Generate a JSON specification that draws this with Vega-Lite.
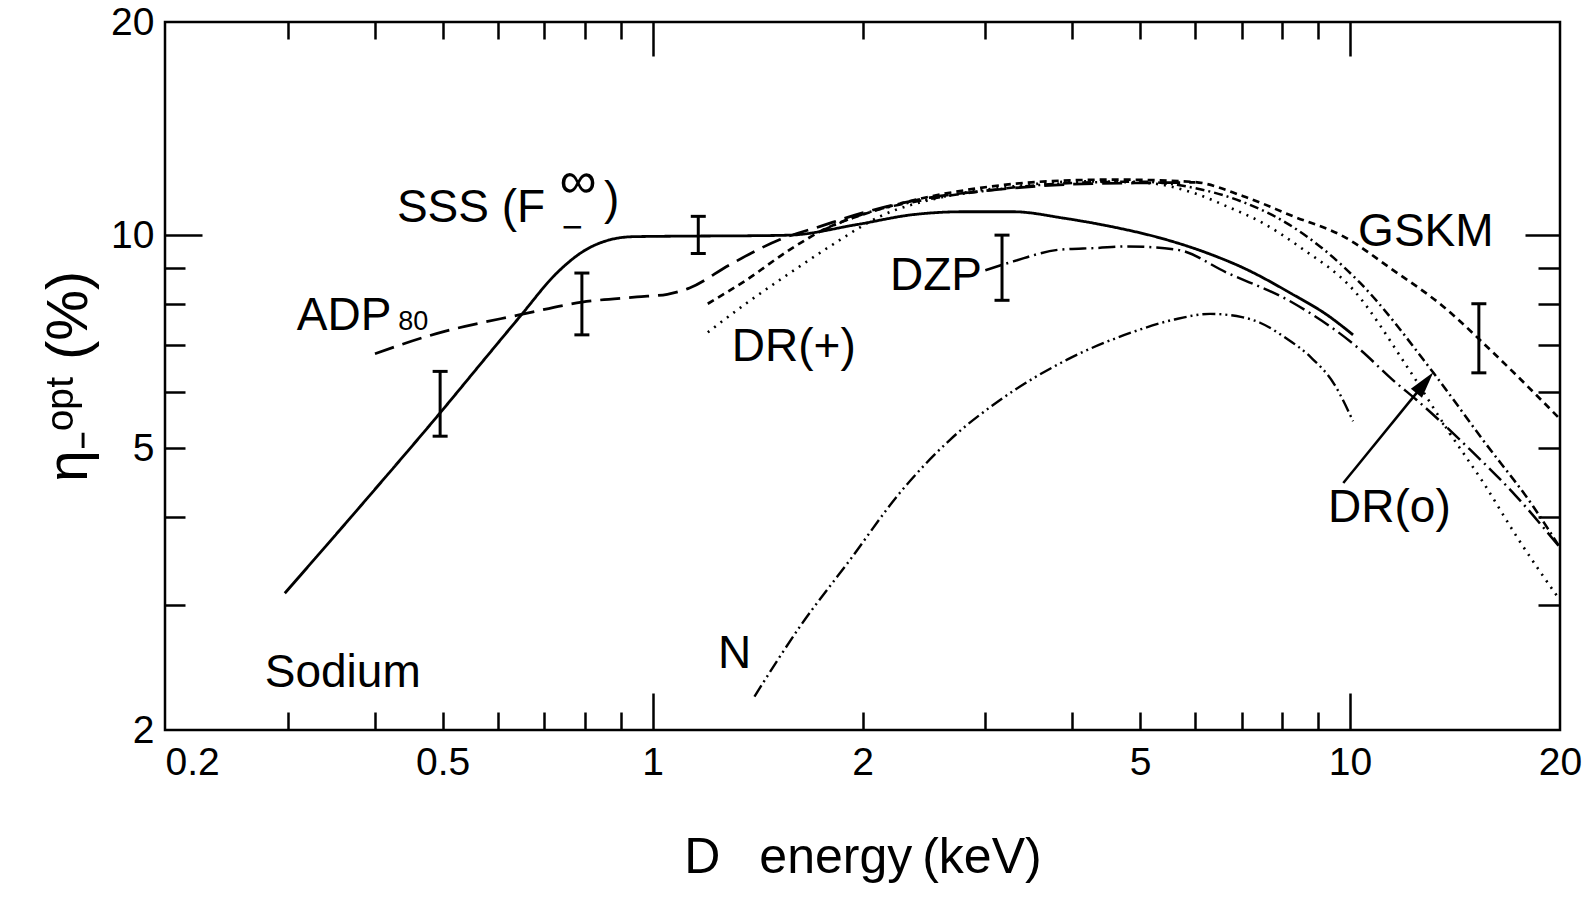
{
  "$schema": "https://vega.github.io/schema/vega-lite/v6.json",
  "width": 1395,
  "height": 708,
  "autosize": {"type": "none"},
  "padding": {"left": 165, "top": 22, "right": 31, "bottom": 172},
  "background": "white",
  "config": {
    "view": {"stroke": "black", "strokeWidth": 2.5},
    "axis": {
      "grid": false,
      "domain": false,
      "labelFont": "Liberation Sans",
      "labelFontSize": 39,
      "labelColor": "black",
      "tickColor": "black",
      "tickWidth": 2.5,
      "titleFont": "Liberation Sans",
      "titleColor": "black",
      "titleFontWeight": "normal",
      "labelOverlap": false,
      "labelFlush": false
    }
  },
  "datasets": {
    "curves": [
      {"series": "SSS", "x": 0.297, "y": 3.12},
      {"series": "SSS", "x": 0.394, "y": 4.30},
      {"series": "SSS", "x": 0.496, "y": 5.61},
      {"series": "SSS", "x": 0.575, "y": 6.69},
      {"series": "SSS", "x": 0.646, "y": 7.68},
      {"series": "SSS", "x": 0.729, "y": 8.84},
      {"series": "SSS", "x": 0.796, "y": 9.49},
      {"series": "SSS", "x": 0.869, "y": 9.85},
      {"series": "SSS", "x": 0.939, "y": 9.95},
      {"series": "SSS", "x": 1.157, "y": 9.97},
      {"series": "SSS", "x": 1.38, "y": 9.98},
      {"series": "SSS", "x": 1.574, "y": 10.0},
      {"series": "SSS", "x": 1.963, "y": 10.35},
      {"series": "SSS", "x": 2.365, "y": 10.69},
      {"series": "SSS", "x": 2.79, "y": 10.79},
      {"series": "SSS", "x": 3.29, "y": 10.79},
      {"series": "SSS", "x": 3.88, "y": 10.57},
      {"series": "SSS", "x": 4.55, "y": 10.28},
      {"series": "SSS", "x": 5.34, "y": 9.91},
      {"series": "SSS", "x": 6.23, "y": 9.44},
      {"series": "SSS", "x": 7.03, "y": 8.99},
      {"series": "SSS", "x": 8.29, "y": 8.24},
      {"series": "SSS", "x": 9.26, "y": 7.72},
      {"series": "SSS", "x": 10.1, "y": 7.23},

      {"series": "ADP80", "x": 0.40, "y": 6.80},
      {"series": "ADP80", "x": 0.49, "y": 7.26},
      {"series": "ADP80", "x": 0.646, "y": 7.72},
      {"series": "ADP80", "x": 0.792, "y": 8.04},
      {"series": "ADP80", "x": 0.95, "y": 8.18},
      {"series": "ADP80", "x": 1.05, "y": 8.25},
      {"series": "ADP80", "x": 1.13, "y": 8.42},
      {"series": "ADP80", "x": 1.29, "y": 9.08},
      {"series": "ADP80", "x": 1.52, "y": 9.85},
      {"series": "ADP80", "x": 1.74, "y": 10.29},
      {"series": "ADP80", "x": 2.0, "y": 10.75},
      {"series": "ADP80", "x": 2.5, "y": 11.3},
      {"series": "ADP80", "x": 3.0, "y": 11.55},
      {"series": "ADP80", "x": 4.0, "y": 11.8},
      {"series": "ADP80", "x": 5.0, "y": 11.85},
      {"series": "ADP80", "x": 6.0, "y": 11.87},

      {"series": "GSKM", "x": 1.2, "y": 8.0},
      {"series": "GSKM", "x": 1.365, "y": 8.65},
      {"series": "GSKM", "x": 1.574, "y": 9.54},
      {"series": "GSKM", "x": 1.8, "y": 10.29},
      {"series": "GSKM", "x": 2.0, "y": 10.69},
      {"series": "GSKM", "x": 2.365, "y": 11.2},
      {"series": "GSKM", "x": 2.95, "y": 11.66},
      {"series": "GSKM", "x": 3.67, "y": 11.91},
      {"series": "GSKM", "x": 4.58, "y": 11.98},
      {"series": "GSKM", "x": 5.96, "y": 11.89},
      {"series": "GSKM", "x": 7.03, "y": 11.35},
      {"series": "GSKM", "x": 8.29, "y": 10.63},
      {"series": "GSKM", "x": 9.78, "y": 9.96},
      {"series": "GSKM", "x": 11.5, "y": 8.94},
      {"series": "GSKM", "x": 13.6, "y": 7.93},
      {"series": "GSKM", "x": 16.05, "y": 6.82},
      {"series": "GSKM", "x": 20, "y": 5.5},

      {"series": "DR+", "x": 1.2, "y": 7.29},
      {"series": "DR+", "x": 1.365, "y": 8.02},
      {"series": "DR+", "x": 1.574, "y": 8.84},
      {"series": "DR+", "x": 1.796, "y": 9.64},
      {"series": "DR+", "x": 2.12, "y": 10.63},
      {"series": "DR+", "x": 2.64, "y": 11.35},
      {"series": "DR+", "x": 3.29, "y": 11.72},
      {"series": "DR+", "x": 4.1, "y": 11.91},
      {"series": "DR+", "x": 5.1, "y": 11.85},
      {"series": "DR+", "x": 6.0, "y": 11.45},
      {"series": "DR+", "x": 6.66, "y": 10.98},
      {"series": "DR+", "x": 7.5, "y": 10.4},
      {"series": "DR+", "x": 8.5, "y": 9.6},
      {"series": "DR+", "x": 10.1, "y": 8.38},
      {"series": "DR+", "x": 12.06, "y": 6.53},
      {"series": "DR+", "x": 13.9, "y": 5.25},
      {"series": "DR+", "x": 15.53, "y": 4.47},
      {"series": "DR+", "x": 17.34, "y": 3.75},
      {"series": "DR+", "x": 20, "y": 3.05},

      {"series": "DRo", "x": 1.75, "y": 10.15},
      {"series": "DRo", "x": 2.0, "y": 10.7},
      {"series": "DRo", "x": 2.5, "y": 11.25},
      {"series": "DRo", "x": 3.0, "y": 11.55},
      {"series": "DRo", "x": 4.0, "y": 11.85},
      {"series": "DRo", "x": 5.0, "y": 11.9},
      {"series": "DRo", "x": 6.0, "y": 11.65},
      {"series": "DRo", "x": 7.0, "y": 11.15},
      {"series": "DRo", "x": 8.11, "y": 10.4},
      {"series": "DRo", "x": 10.34, "y": 8.56},
      {"series": "DRo", "x": 13.17, "y": 6.39},
      {"series": "DRo", "x": 15.5, "y": 5.14},
      {"series": "DRo", "x": 18.3, "y": 4.14},
      {"series": "DRo", "x": 20, "y": 3.62},

      {"series": "DZP", "x": 3.0, "y": 8.92},
      {"series": "DZP", "x": 3.29, "y": 9.18},
      {"series": "DZP", "x": 3.84, "y": 9.54},
      {"series": "DZP", "x": 4.33, "y": 9.59},
      {"series": "DZP", "x": 4.78, "y": 9.64},
      {"series": "DZP", "x": 5.64, "y": 9.54},
      {"series": "DZP", "x": 6.66, "y": 8.85},
      {"series": "DZP", "x": 8.29, "y": 8.02},
      {"series": "DZP", "x": 10.34, "y": 6.89},
      {"series": "DZP", "x": 11.5, "y": 6.25},
      {"series": "DZP", "x": 12.46, "y": 5.85},
      {"series": "DZP", "x": 14.7, "y": 5.03},
      {"series": "DZP", "x": 17.3, "y": 4.28},
      {"series": "DZP", "x": 20, "y": 3.62},

      {"series": "N", "x": 1.40, "y": 2.23},
      {"series": "N", "x": 1.627, "y": 2.80},
      {"series": "N", "x": 1.92, "y": 3.48},
      {"series": "N", "x": 2.26, "y": 4.32},
      {"series": "N", "x": 2.67, "y": 5.14},
      {"series": "N", "x": 3.15, "y": 5.85},
      {"series": "N", "x": 3.93, "y": 6.67},
      {"series": "N", "x": 4.85, "y": 7.28},
      {"series": "N", "x": 5.6, "y": 7.6},
      {"series": "N", "x": 6.3, "y": 7.74},
      {"series": "N", "x": 7.0, "y": 7.66},
      {"series": "N", "x": 7.43, "y": 7.52},
      {"series": "N", "x": 8.1, "y": 7.15},
      {"series": "N", "x": 8.76, "y": 6.74},
      {"series": "N", "x": 9.5, "y": 6.15},
      {"series": "N", "x": 10.1, "y": 5.46}
    ],
    "bars": [
      {"x": 0.496, "lo": 5.20, "hi": 6.42},
      {"x": 0.792, "lo": 7.23, "hi": 8.84},
      {"x": 1.163, "lo": 9.42, "hi": 10.63},
      {"x": 3.17, "lo": 8.09, "hi": 10.0},
      {"x": 15.3, "lo": 6.39, "hi": 8.0}
    ],
    "labels": [
      {"text": "SSS (F", "x": 0.430, "y": 10.45},
      {"text": ")", "x": 0.852, "y": 10.72},
      {"text": "ADP", "x": 0.309, "y": 7.355},
      {"text": "Sodium", "x": 0.278, "y": 2.30},
      {"text": "DR(+)", "x": 1.299, "y": 6.63},
      {"text": "DZP", "x": 2.19, "y": 8.376},
      {"text": "GSKM", "x": 10.27, "y": 9.64},
      {"text": "DR(o)", "x": 9.30, "y": 3.94},
      {"text": "N", "x": 1.241, "y": 2.446}
    ],
    "infinity": [
      {"text": "∞", "x": 0.782, "y": 11.9}
    ],
    "minus": [
      {"text": "−", "x": 0.767, "y": 10.25}
    ],
    "subs": [
      {"text": "80", "x": 0.432, "y": 7.355}
    ],
    "arrow": [
      {"x": 9.78, "y": 4.465, "x2": 12.74, "y2": 6.149}
    ]
  },
  "resolve": {"axis": {"x": "independent", "y": "independent"}},
  "layer": [
    {
      "data": {"name": "curves"},
      "mark": {"type": "line", "color": "black", "strokeCap": "butt", "clip": true, "interpolate": "monotone"},
      "encoding": {
        "x": {
          "field": "x", "type": "quantitative",
          "scale": {"type": "log", "domain": [0.2, 20], "nice": false},
          "axis": {
            "orient": "bottom",
            "values": [0.2, 0.5, 1, 2, 5, 10, 20],
            "ticks": false,
            "format": "~g",
            "labelPadding": 13,
            "labelAlign": {"condition": {"test": "datum.value == 0.2", "value": "left"}, "value": "center"},
            "title": "D\u2002 energy\u2009(keV)",
            "titleFontSize": 50,
            "titlePadding": 50
          }
        },
        "y": {
          "field": "y", "type": "quantitative",
          "scale": {"type": "log", "domain": [2, 20], "nice": false},
          "axis": {
            "orient": "left",
            "values": [2, 5, 10, 20],
            "ticks": false,
            "format": "~g",
            "labelPadding": 11,
            "title": "η₋ᵒᵖᵗ (%)",
            "titleFontSize": 57,
            "titlePadding": 12
          }
        },
        "detail": {"field": "series"},
        "strokeDash": {
          "field": "series", "type": "nominal",
          "scale": {
            "domain": ["SSS", "ADP80", "GSKM", "DR+", "DRo", "DZP", "N"],
            "range": [[1, 0], [20, 9], [7, 5], [2, 6], [9, 4, 2, 4], [17, 5, 2, 5], [13, 4, 2, 4, 2, 4]]
          },
          "legend": null
        },
        "strokeWidth": {
          "field": "series", "type": "ordinal",
          "scale": {
            "domain": ["SSS", "ADP80", "GSKM", "DR+", "DRo", "DZP", "N"],
            "range": [2.8, 2.4, 2.2, 2.0, 2.2, 2.2, 2.2]
          },
          "legend": null
        }
      }
    },
    {
      "data": {"name": "bars"},
      "mark": {"type": "rule", "color": "black", "strokeWidth": 3},
      "encoding": {
        "x": {
          "field": "x", "type": "quantitative",
          "scale": {"type": "log", "domain": [0.2, 20], "nice": false},
          "axis": {
            "orient": "bottom",
            "values": [0.3, 0.4, 0.5, 0.6, 0.7, 0.8, 0.9, 1, 2, 3, 4, 5, 6, 7, 8, 9, 10],
            "labels": false,
            "title": null,
            "tickSize": {"condition": {"test": "datum.value == 1 || datum.value == 10", "value": -37}, "value": -18}
          }
        },
        "y": {
          "field": "lo", "type": "quantitative",
          "scale": {"type": "log", "domain": [2, 20], "nice": false},
          "axis": {
            "orient": "left",
            "values": [3, 4, 5, 6, 7, 8, 9, 10],
            "labels": false,
            "title": null,
            "tickSize": {"condition": {"test": "datum.value == 10", "value": -37}, "value": -20}
          }
        },
        "y2": {"field": "hi"}
      }
    },
    {
      "data": {"name": "bars"},
      "mark": {"type": "tick", "orient": "horizontal", "size": 15, "thickness": 3, "color": "black", "opacity": 1},
      "encoding": {
        "x": {
          "field": "x", "type": "quantitative",
          "scale": {"type": "log", "domain": [0.2, 20], "nice": false},
          "axis": {
            "orient": "top",
            "values": [0.3, 0.4, 0.5, 0.6, 0.7, 0.8, 0.9, 1, 2, 3, 4, 5, 6, 7, 8, 9, 10],
            "labels": false,
            "title": null,
            "tickSize": {"condition": {"test": "datum.value == 1 || datum.value == 10", "value": -34}, "value": -17}
          }
        },
        "y": {
          "field": "lo", "type": "quantitative",
          "scale": {"type": "log", "domain": [2, 20], "nice": false},
          "axis": {
            "orient": "right",
            "values": [3, 4, 5, 6, 7, 8, 9, 10],
            "labels": false,
            "title": null,
            "tickSize": {"condition": {"test": "datum.value == 10", "value": -35}, "value": -22}
          }
        }
      }
    },
    {
      "data": {"name": "bars"},
      "mark": {"type": "tick", "orient": "horizontal", "size": 15, "thickness": 3, "color": "black", "opacity": 1},
      "encoding": {
        "x": {"field": "x", "type": "quantitative", "scale": {"type": "log", "domain": [0.2, 20], "nice": false}, "axis": null},
        "y": {"field": "hi", "type": "quantitative", "scale": {"type": "log", "domain": [2, 20], "nice": false}, "axis": null}
      }
    },
    {
      "data": {"name": "labels"},
      "mark": {"type": "text", "font": "Liberation Sans", "fontSize": 46, "align": "left", "baseline": "alphabetic", "color": "black"},
      "encoding": {
        "x": {"field": "x", "type": "quantitative", "scale": {"type": "log", "domain": [0.2, 20], "nice": false}, "axis": null},
        "y": {"field": "y", "type": "quantitative", "scale": {"type": "log", "domain": [2, 20], "nice": false}, "axis": null},
        "text": {"field": "text"}
      }
    },
    {
      "data": {"name": "infinity"},
      "mark": {"type": "text", "font": "Liberation Sans", "fontSize": 52, "align": "center", "baseline": "middle", "color": "black"},
      "encoding": {
        "x": {"field": "x", "type": "quantitative", "scale": {"type": "log", "domain": [0.2, 20], "nice": false}, "axis": null},
        "y": {"field": "y", "type": "quantitative", "scale": {"type": "log", "domain": [2, 20], "nice": false}, "axis": null},
        "text": {"field": "text"}
      }
    },
    {
      "data": {"name": "minus"},
      "mark": {"type": "text", "font": "Liberation Sans", "fontSize": 36, "align": "center", "baseline": "middle", "color": "black"},
      "encoding": {
        "x": {"field": "x", "type": "quantitative", "scale": {"type": "log", "domain": [0.2, 20], "nice": false}, "axis": null},
        "y": {"field": "y", "type": "quantitative", "scale": {"type": "log", "domain": [2, 20], "nice": false}, "axis": null},
        "text": {"field": "text"}
      }
    },
    {
      "data": {"name": "subs"},
      "mark": {"type": "text", "font": "Liberation Sans", "fontSize": 27, "align": "left", "baseline": "alphabetic", "color": "black"},
      "encoding": {
        "x": {"field": "x", "type": "quantitative", "scale": {"type": "log", "domain": [0.2, 20], "nice": false}, "axis": null},
        "y": {"field": "y", "type": "quantitative", "scale": {"type": "log", "domain": [2, 20], "nice": false}, "axis": null},
        "text": {"field": "text"}
      }
    },
    {
      "data": {"name": "arrow"},
      "mark": {"type": "rule", "color": "black", "strokeWidth": 2.5},
      "encoding": {
        "x": {"field": "x", "type": "quantitative", "scale": {"type": "log", "domain": [0.2, 20], "nice": false}, "axis": null},
        "y": {"field": "y", "type": "quantitative", "scale": {"type": "log", "domain": [2, 20], "nice": false}, "axis": null},
        "x2": {"field": "x2"},
        "y2": {"field": "y2"}
      }
    },
    {
      "data": {"name": "arrow"},
      "mark": {"type": "point", "shape": "M0,-1L0.45,0.7L-0.45,0.7Z", "filled": true, "color": "black", "opacity": 1, "size": 1000, "angle": 39},
      "encoding": {
        "x": {"field": "x2", "type": "quantitative", "scale": {"type": "log", "domain": [0.2, 20], "nice": false}, "axis": null},
        "y": {"field": "y2", "type": "quantitative", "scale": {"type": "log", "domain": [2, 20], "nice": false}, "axis": null}
      }
    }
  ]
}
